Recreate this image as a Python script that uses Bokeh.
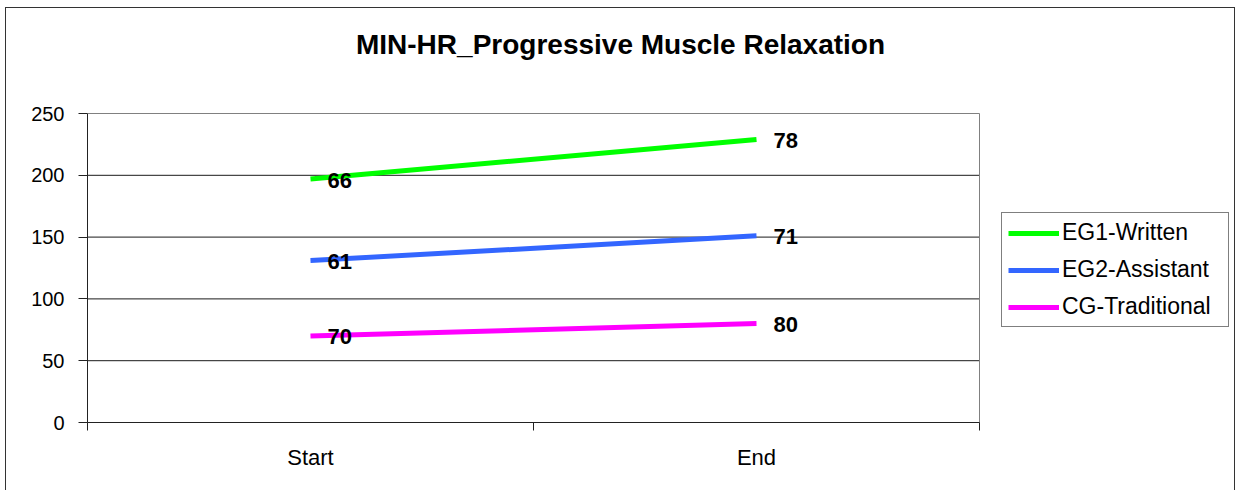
from bokeh.plotting import figure
from bokeh.models import (Range1d, FixedTicker, ColumnDataSource, LabelSet, Legend,
                          LegendItem, InlineStyleSheet, Label)
from bokeh.core.properties import value
from bokeh.embed import file_html
from bokeh.resources import INLINE

# ---- data -------------------------------------------------------------
title_text = "MIN-HR_Progressive Muscle Relaxation"
categories = ["Start", "End"]
series_names = ["EG1-Written", "EG2-Assistant", "CG-Traditional"]
eg1_written = [66, 78]
eg2_assistant = [61, 71]
cg_traditional = [70, 80]
series_colors = ["#00FF00", "#3366FF", "#FF00FF"]
y_ticks = [0, 50, 100, 150, 200, 250]

FONT = "Liberation Sans"

# stacked series: CG at the bottom, EG2 on top of it, EG1 on top of both
cg_top = list(cg_traditional)
eg2_top = [a + b for a, b in zip(cg_top, eg2_assistant)]
eg1_top = [a + b for a, b in zip(eg2_top, eg1_written)]

n_cat = len(categories)
y_max = y_ticks[-1]
x_pos = [i + 0.5 for i in range(n_cat)]

# The frame covers the canvas to the top and right edges so that the title and
# legend can be placed freely; the axes only occupy [0, n_cat] x [0, y_max].
W, H = 1235, 490
LEFT, PLOT_RIGHT, PLOT_TOP, BOTTOM = 87, 979, 113, 422
x_end = n_cat * (W - LEFT) / (PLOT_RIGHT - LEFT)
y_end = y_max * BOTTOM / (BOTTOM - PLOT_TOP)

p = figure(width=W, height=H, output_backend="svg", toolbar_location=None,
           title=None, x_range=Range1d(0, x_end), y_range=Range1d(0, y_end),
           min_border_left=LEFT, min_border_right=0,
           min_border_top=0, min_border_bottom=H - BOTTOM)
p.background_fill_color = "white"
p.border_fill_color = "white"
p.outline_line_color = None
p.xgrid.visible = False
p.ygrid.visible = False

# x axis: category labels centred in their bands, ticks between them
p.xaxis.bounds = (0, n_cat)
p.xaxis.ticker = FixedTicker(ticks=x_pos, minor_ticks=list(range(n_cat + 1)))
p.xaxis.major_label_overrides = {x: c for x, c in zip(x_pos, categories)}
p.xaxis.major_tick_out = 0
p.xaxis.major_tick_in = 0
p.xaxis.minor_tick_out = 8
p.xaxis.minor_tick_in = 0
p.xaxis.minor_tick_line_color = "#222222"
p.xaxis.axis_line_color = "#222222"
p.xaxis.major_label_text_font = FONT
p.xaxis.major_label_text_font_size = "22px"
p.xaxis.major_label_text_color = "black"
p.xaxis.major_label_standoff = 14

# y axis
p.yaxis.bounds = (0, y_max)
p.yaxis.ticker = FixedTicker(ticks=y_ticks)
p.yaxis.major_tick_out = 9
p.yaxis.major_tick_in = 0
p.yaxis.minor_tick_out = 0
p.yaxis.minor_tick_in = 0
p.yaxis.axis_line_color = "#222222"
p.yaxis.major_tick_line_color = "#222222"
p.yaxis.major_label_text_font = FONT
p.yaxis.major_label_text_font_size = "20px"
p.yaxis.major_label_text_color = "black"
p.yaxis.major_label_standoff = 14

# horizontal gridlines across the plotting area (top one forms the gray border)
grid_src = ColumnDataSource(dict(
    x0=[0] * len(y_ticks), x1=[n_cat] * len(y_ticks), y=y_ticks,
    c=["#1a1a1a"] * (len(y_ticks) - 1) + ["#808080"]))
p.segment(x0="x0", y0="y", x1="x1", y1="y", source=grid_src, line_color="c", line_width=1)
# right-hand border of the plotting area
p.segment(x0=[n_cat], y0=[0], x1=[n_cat], y1=[y_max], line_color="#808080", line_width=1)

# lines and value labels
stacks = [eg1_top, eg2_top, cg_top]
values = [eg1_written, eg2_assistant, cg_traditional]
items = []
for name, top, vals, col in zip(series_names, stacks, values, series_colors):
    src = ColumnDataSource(dict(x=x_pos, y=top, t=[str(v) for v in vals]))
    r = p.line("x", "y", source=src, line_color=col, line_width=5)
    items.append(LegendItem(label=name, renderers=[r]))
    p.add_layout(LabelSet(x="x", y="y", text="t", source=src, x_offset=17, y_offset=-1,
                          text_align="left", text_baseline="middle",
                          text_font=value(FONT), text_font_size="22px",
                          text_font_style="bold", text_color="black"))

legend = Legend(items=items, location=(914, 95))
legend.label_text_font = FONT
legend.label_text_font_size = "23px"
legend.label_text_color = "black"
legend.glyph_width = 51
legend.glyph_height = 24
legend.label_height = 24
legend.label_width = 160
legend.label_standoff = 3
legend.spacing = 10
legend.padding = 6
legend.margin = 0
legend.border_line_color = "black"
legend.border_line_width = 1
legend.background_fill_color = "white"
legend.background_fill_alpha = 1
p.add_layout(legend)

# chart title, centred over the whole chart area
p.add_layout(Label(x=533, y=BOTTOM - 44, x_units="screen", y_units="screen",
                   text=title_text, text_align="center", text_baseline="middle",
                   text_font=FONT, text_font_size="28px", text_font_style="bold",
                   text_color="black"))

# thin frame around the whole chart area
p.stylesheets = [InlineStyleSheet(css="""
:host { position: relative; overflow: hidden; }
:host::after {
  content: ""; position: absolute; left: 5px; top: 7px;
  width: 1230px; height: 490px; box-sizing: border-box;
  border: 1.5px solid #333333; pointer-events: none;
}
""")]

open("out.html", "w").write(file_html(p, INLINE))
